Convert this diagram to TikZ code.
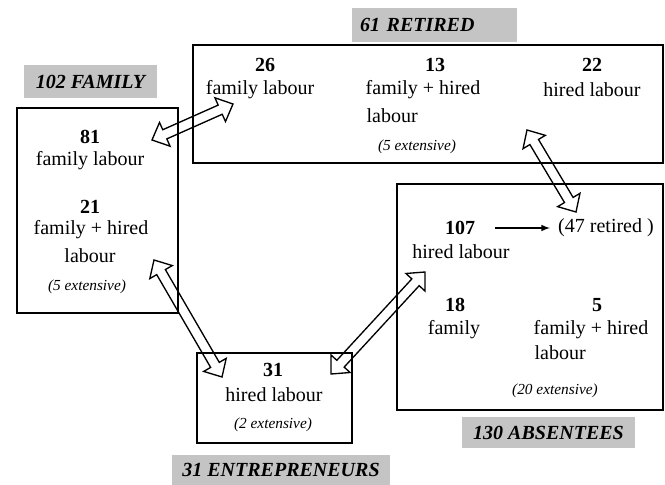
\documentclass[tikz,border=0pt]{standalone}
\usepackage{fontspec}
\setmainfont{Liberation Serif}
\usepackage{tikz}
\usetikzlibrary{calc}
\definecolor{tagGray}{RGB}{196,196,196}

% hollow double-headed arrow between two named points
\newcommand{\dblarrow}[2]{%
  \coordinate (ha) at ($(#1)!10.5pt!(#2)$);
  \coordinate (hb) at ($(#2)!10.5pt!(#1)$);
  \draw[hollow] (#1) -- ($(ha)!9.75pt!90:(#2)$) -- ($(ha)!3.75pt!90:(#2)$)
    -- ($(hb)!3.75pt!-90:(#1)$) -- ($(hb)!9.75pt!-90:(#1)$) -- (#2)
    -- ($(hb)!9.75pt!90:(#1)$) -- ($(hb)!3.75pt!90:(#1)$)
    -- ($(ha)!3.75pt!-90:(#2)$) -- ($(ha)!9.75pt!-90:(#2)$) -- cycle;
}

\begin{document}
\begin{tikzpicture}[x=0.75pt, y=-0.75pt,
    box/.style={draw, line width=1.6pt, inner sep=0pt},
    tag/.style={fill=tagGray, inner sep=0pt, font=\fontsize{15}{18}\selectfont\bfseries\itshape},
    num/.style={font=\fontsize{15}{18}\selectfont\bfseries, inner sep=1pt},
    txt/.style={font=\fontsize{15}{18}\selectfont, inner sep=1pt},
    note/.style={font=\fontsize{11.5}{14}\selectfont\itshape, inner sep=1pt},
    hollow/.style={draw, line width=1pt, line join=miter}]

  \useasboundingbox (0,0) rectangle (665,485);

  % group labels
  \node (tagFam) at (90.5,81.5) [tag, minimum width=99.75pt, minimum height=24.75pt] {102 FAMILY};
  \node (tagRet) at (434.5,25) [tag, minimum height=25.5pt, text width=111.75pt, inner xsep=6pt, align=left] {61 RETIRED};
  \node (tagAbs) at (548.5,432.5) [tag, minimum width=129.75pt, minimum height=23.25pt] {130 ABSENTEES};
  \node (tagEnt) at (281,470) [tag, minimum width=163.5pt, minimum height=22.5pt] {31 ENTREPRENEURS};

  % boxes
  \node (famBox) at (97.5,210.5) [box, minimum width=120.75pt, minimum height=153.75pt] {};
  \node (retBox) at (428,104) [box, minimum width=352.5pt, minimum height=88.5pt] {};
  \node (absBox) at (530,297) [box, minimum width=199.5pt, minimum height=169.5pt] {};
  \node (entBox) at (274.5,398) [box, minimum width=116.25pt, minimum height=67.5pt] {};

  % family
  \node (num81) at (90,137) [num] {81};
  \node (fam81) at (90,161) [txt] {family labour};
  \node (num21) at (90,207) [num] {21};
  \node (fam21) at (91,230) [txt] {family + hired};
  \node (lab21) at (90,256) [txt] {labour};
  \node (extFam) at (87,287) [note] {(5 extensive)};

  % retired
  \node (num26) at (265,65) [num] {26};
  \node (ret26) at (260,90) [txt] {family labour};
  \node (num13) at (435,65) [num] {13};
  \node (ret13) at (423,90) [txt] {family + hired};
  \node (lab13) at (365,116) [txt, anchor=west] {labour};
  \node (num22) at (592,65) [num] {22};
  \node (ret22) at (592,90) [txt] {hired labour};
  \node (extRet) at (417,147) [note] {(5 extensive)};

  % absentees
  \node (num107) at (460,228) [num] {107};
  \node (abs107) at (461,252) [txt] {hired labour};
  \node (ret47) at (606,228) [txt] {(47 retired )};
  \node (num18) at (455,305) [num] {18};
  \node (abs18) at (454,330) [txt] {family};
  \node (num5) at (597,305) [num] {5};
  \node (abs5) at (591,330) [txt] {family + hired};
  \node (lab5) at (533,353) [txt, anchor=west] {labour};
  \node (extAbs) at (555,391) [note] {(20 extensive)};

  % entrepreneurs
  \node (num31) at (273,370) [num] {31};
  \node (ent31) at (274,395) [txt] {hired labour};
  \node (extEnt) at (273,425) [note] {(2 extensive)};

  \draw[-latex, line width=1.2pt] ([xshift=14pt]num107.east) -- ([xshift=-5pt]num107.east -| ret47.west);

  % arrow ends
  \coordinate (famTipA) at (152,140);
  \coordinate (retTipA) at (233,104);
  \coordinate (famTipB) at (154,260);
  \coordinate (entTipA) at (222,377);
  \coordinate (entTipB) at (331,374);
  \coordinate (absTipA) at (425,272);
  \coordinate (retTipB) at (527,130);
  \coordinate (absTipB) at (576,212);

  \dblarrow{famTipA}{retTipA}
  \dblarrow{famTipB}{entTipA}
  \dblarrow{entTipB}{absTipA}
  \dblarrow{retTipB}{absTipB}

\end{tikzpicture}
\end{document}
